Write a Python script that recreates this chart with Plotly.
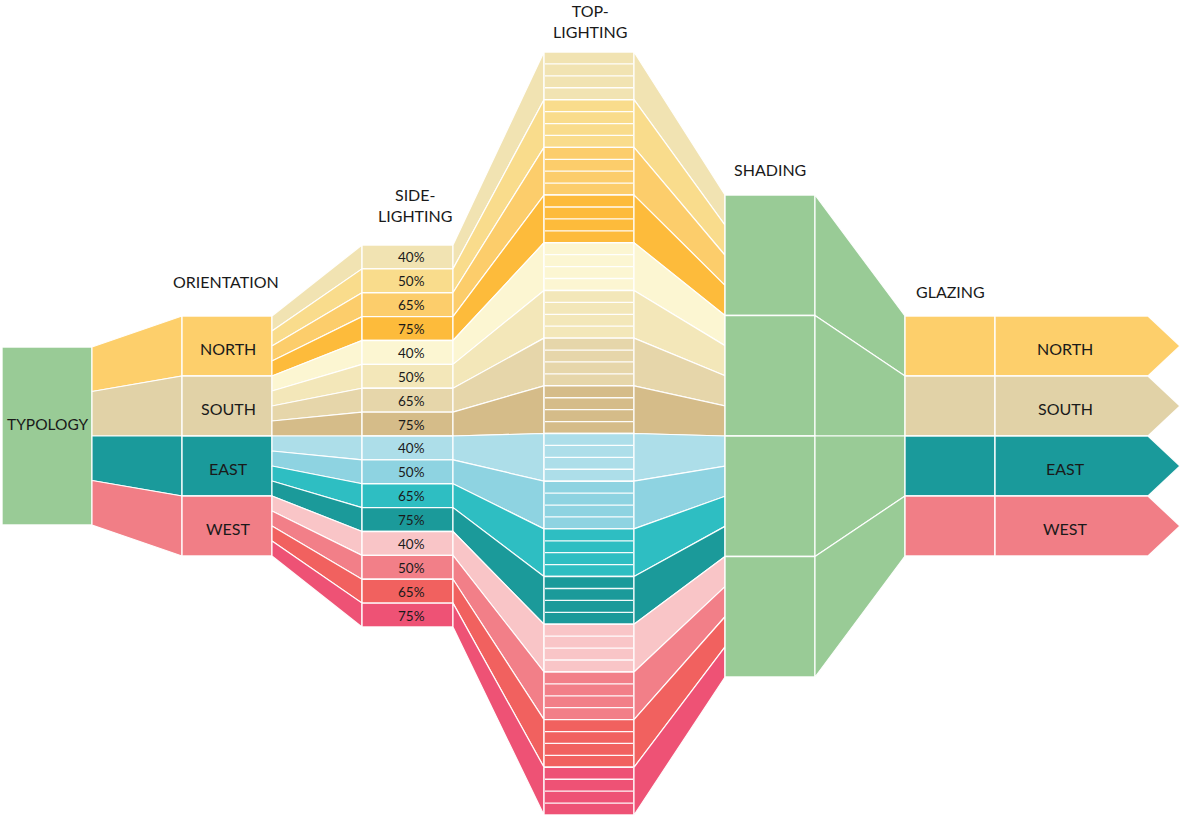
import plotly.graph_objects as go

# ---------------- data ----------------
stage_titles = ["TYPOLOGY", "ORIENTATION", "SIDE-<br>LIGHTING", "TOP-<br>LIGHTING", "SHADING", "GLAZING"]
orientations = ["NORTH", "SOUTH", "EAST", "WEST"]
wwr_levels = ["40%", "50%", "65%", "75%"]
toplight_rows_per_option = 4
typology_label = "TYPOLOGY"

typology_color = "#99CB96"
orientation_colors = ["#FDCF6B", "#E1D2A7", "#1A9A9B", "#F17E86"]
sidelight_colors = [
    ["#F1E3B2", "#F9DC8C", "#FCCD6B", "#FDBB3B"],
    ["#FCF6D2", "#F3E7B9", "#E6D6AA", "#D5BC89"],
    ["#ADDEE9", "#8ED3E1", "#2EBEC2", "#1B9A9A"],
    ["#F9C5C7", "#F27F88", "#F1615F", "#EE5275"],
]

# ---------------- layout geometry ----------------
COL = {
    "typ": (2, 92), "l1": (92, 182), "ori": (182, 272), "l2": (272, 362),
    "side": (362, 453), "l3": (453, 544), "top": (544, 634), "l4": (634, 725),
    "shd": (725, 815), "l5": (815, 905), "glz": (905, 995), "arw": (995, 1148, 1180),
}
SPAN = {
    "typ": (347, 525), "ori": (316, 556), "side": (245, 627),
    "top": (52, 815), "shd": (195, 677), "glz": (316, 556),
}
EDGE = "rgba(255,255,255,0.95)"
TXT = "#1a1a1a"
FONT = "Lato"


def split(span, n):
    a, b = span
    h = (b - a) / n
    return [(a + i * h, a + (i + 1) * h) for i in range(n)]


fig = go.Figure()


def poly(xs, ys, color, lw=1.4):
    fig.add_trace(go.Scatter(
        x=list(xs) + [xs[0]], y=list(ys) + [ys[0]], mode="lines", fill="toself",
        fillcolor=color, line=dict(color=EDGE, width=lw), hoverinfo="skip",
        showlegend=False))


def rect(col, y0, y1, color, lw=1.4):
    x0, x1 = COL[col][0], COL[col][1]
    poly([x0, x1, x1, x0], [y0, y0, y1, y1], color, lw)


def link(col, left, right, color, lw=1.2):
    x0, x1 = COL[col][0], COL[col][1]
    poly([x0, x1, x1, x0], [left[0], right[0], right[1], left[1]], color, lw)


n_o = len(orientations)
n_w = len(wwr_levels)
n_opts = n_o * n_w

typ_parts = split(SPAN["typ"], n_o)
ori_bands = split(SPAN["ori"], n_o)
side_bands = split(SPAN["side"], n_opts)
top_bands = split(SPAN["top"], n_opts)
shd_bands = split(SPAN["shd"], n_opts)
shd_groups = split(SPAN["shd"], n_o)
glz_bands = split(SPAN["glz"], n_o)

# typology block
rect("typ", *SPAN["typ"], typology_color)

for i, name in enumerate(orientations):
    oc = orientation_colors[i]
    # typology -> orientation
    link("l1", typ_parts[i], ori_bands[i], oc)
    rect("ori", *ori_bands[i], oc)
    ori_sub = split(ori_bands[i], n_w)
    for j in range(n_w):
        k = i * n_w + j
        c = sidelight_colors[i][j]
        link("l2", ori_sub[j], side_bands[k], c)
        rect("side", *side_bands[k], c)
        link("l3", side_bands[k], top_bands[k], c)
        rect("top", *top_bands[k], c)
        link("l4", top_bands[k], shd_bands[k], c)
    # shading blocks
    rect("shd", *shd_groups[i], typology_color)
    link("l5", shd_groups[i], glz_bands[i], typology_color)
    # glazing block + arrow
    rect("glz", *glz_bands[i], oc)
    xa0, xa1, xa2 = COL["arw"]
    g0, g1 = glz_bands[i]
    poly([xa0, xa1, xa2, xa1, xa0], [g0, g0, (g0 + g1) / 2, g1, g1], oc)

# top-lighting row separators
rx, ry = [], []
x0, x1 = COL["top"]
for (a, b) in top_bands:
    for r in split((a, b), toplight_rows_per_option)[1:]:
        rx += [x0 + 1, x1 - 1, None]
        ry += [r[0], r[0], None]
fig.add_trace(go.Scatter(x=rx, y=ry, mode="lines", line=dict(color=EDGE, width=1.3),
                         hoverinfo="skip", showlegend=False))

# ---------------- text ----------------
ann = []


def label(x, y, text, size=16):
    ann.append(dict(x=x, y=y, text=text, showarrow=False, xanchor="center", yanchor="middle",
                    font=dict(family=FONT, size=size, color=TXT)))


label(sum(COL["typ"]) / 2, SPAN["typ"][0] + 77, typology_label, size=15.5)
label(226, SPAN["ori"][0] - 35, stage_titles[1])
label(415, SPAN["side"][0] - 40, stage_titles[2])
label(590, SPAN["top"][0] - 31, stage_titles[3])
label(770, SPAN["shd"][0] - 26, stage_titles[4])
label(950, SPAN["glz"][0] - 25, stage_titles[5])

for i, name in enumerate(orientations):
    a, b = ori_bands[i]
    label(228, (a + b) / 2 + 2, name)
    a, b = glz_bands[i]
    label(1065, (a + b) / 2 + 2, name)
    for j, w in enumerate(wwr_levels):
        a, b = side_bands[i * n_w + j]
        label(sum(COL["side"][:2]) / 2 + 4, (a + b) / 2 + 0.5, w, size=13.5)

W, H = 1180, 819
fig.update_layout(
    width=W, height=H, margin=dict(l=0, r=0, t=0, b=0),
    paper_bgcolor="white", plot_bgcolor="white", annotations=ann,
    xaxis=dict(range=[0, W], visible=False, fixedrange=True),
    yaxis=dict(range=[H, 0], visible=False, fixedrange=True),
    showlegend=False,
)
fig.write_html(
    "out.html",
    config={"displayModeBar": False},
    post_script="document.body.style.margin='0';document.body.style.overflow='hidden';",
)
